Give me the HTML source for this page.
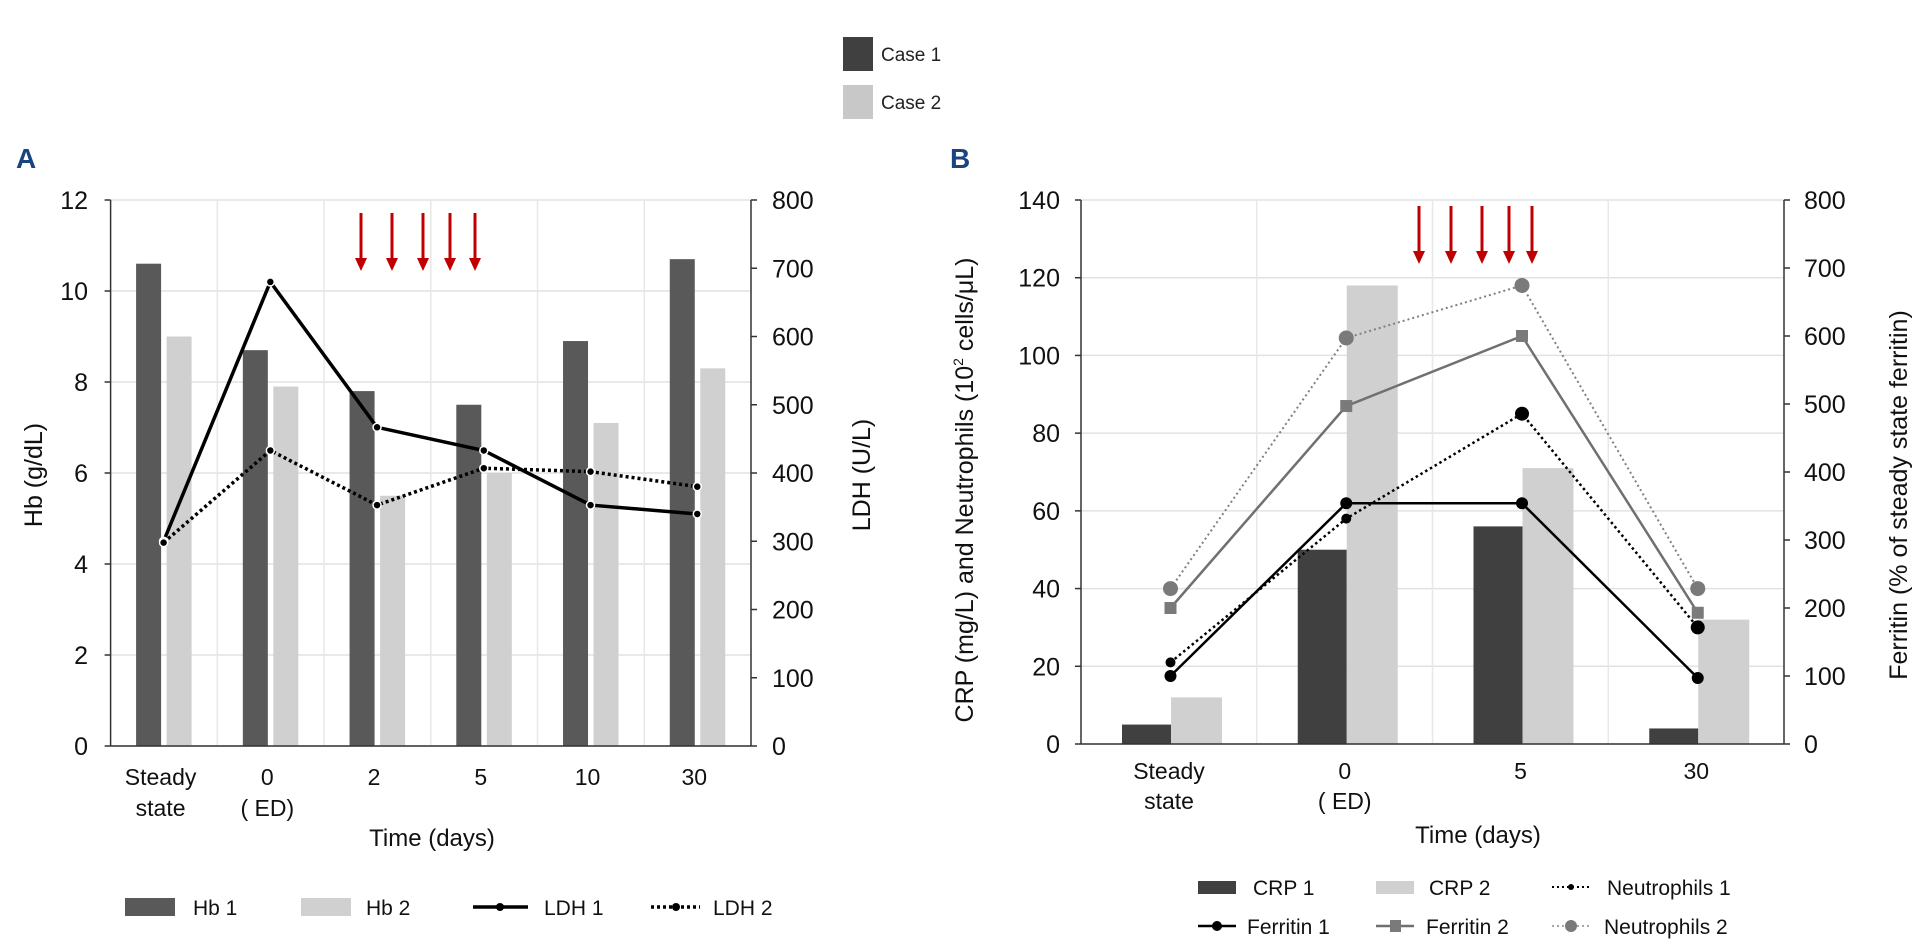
<!DOCTYPE html>
<html><head><meta charset="utf-8"><style>
html,body{margin:0;padding:0;background:#fff;}
svg{display:block;font-family:"Liberation Sans",Arial,sans-serif;}
</style></head><body>
<svg id="fig" width="1927" height="942" viewBox="0 0 1927 942" xmlns="http://www.w3.org/2000/svg">
<g>
<rect x="843" y="37" width="30" height="34" fill="#404040"/>
<text x="881" y="61" font-size="19" fill="#222">Case 1</text>
<rect x="843" y="85" width="30" height="34" fill="#c8c8c8"/>
<text x="881" y="109" font-size="19" fill="#222">Case 2</text>
</g>
<text x="16" y="168" font-size="28" font-weight="bold" fill="#1a4480">A</text>
<text x="950" y="168" font-size="28" font-weight="bold" fill="#1a4480">B</text>
<g id="chartA"></g>
<g id="chartB"></g>
</svg>
<script>
// ---- Chart A data ----
const catsA = [["Steady","state"],["0","( ED)"],["2"],["5"],["10"],["30"]];
const hb1 = [10.6, 8.7, 7.8, 7.5, 8.9, 10.7];
const hb2 = [9.0, 7.9, 5.5, 6.0, 7.1, 8.3];
const ldh1 = [300, 680, 467, 433, 353, 340];
const ldh2 = [298, 433, 353, 407, 402, 380];
const ticksAL = [0,2,4,6,8,10,12];
const ticksAR = [0,100,200,300,400,500,600,700,800];
// ---- Chart B data ----
const catsB = [["Steady","state"],["0","( ED)"],["5"],["30"]];
const crp1 = [5, 50, 56, 4];
const crp2 = [12, 118, 71, 32];
const neut1 = [21, 58, 85, 30];
const neut2 = [40, 104.5, 118, 40];
const ferr1 = [100, 354, 354, 97];
const ferr2 = [200, 497, 600, 193];
const ticksBL = [0,20,40,60,80,100,120,140];
const ticksBR = [0,100,200,300,400,500,600,700,800];

const NS="http://www.w3.org/2000/svg";
function mk(parent, tag, attrs){const e=document.createElementNS(NS,tag);for(const k in attrs)e.setAttribute(k,attrs[k]);parent.appendChild(e);return e;}
function arrow(g,x,y1,y2,name){
  const a=mk(g,'line',{x1:x,x2:x,y1:y1,y2:y2-10,stroke:'#c00000','stroke-width':3});
  
  
  const h=mk(g,'polygon',{points:(x-6)+','+(y2-13)+' '+(x+6)+','+(y2-13)+' '+x+','+y2,fill:'#c00000'});
  
  
}

// ===== Chart A =====
(function(){
const g=document.getElementById('chartA');
const L=110.6,R=751,T=200,B=746;
const band=(R-L)/catsA.length;
const yL=v=>B-(v/12)*(B-T);
const yR=v=>B-(v/800)*(B-T);
const bx=i=>L+i*band;
ticksAL.forEach(t=>{
  const gl=mk(g,'line',{x1:L,x2:R,y1:yL(t),y2:yL(t),stroke:'#e2e2e2','stroke-width':1.5});
  
  
  const tx=mk(g,'text',{x:88,y:yL(t)+9,'font-size':25,'text-anchor':'end',fill:'#111'});tx.textContent=t;
  
  
  const tk=mk(g,'line',{x1:L-6,x2:L,y1:yL(t),y2:yL(t),stroke:'#333','stroke-width':1.5});
  
  
});
for(let i=1;i<catsA.length;i++){
  const v=mk(g,'line',{x1:bx(i),x2:bx(i),y1:T,y2:B,stroke:'#e8e8e8','stroke-width':1.5});
  
  
}
ticksAR.forEach(t=>{
  const tx=mk(g,'text',{x:772,y:yR(t)+9,'font-size':25,fill:'#111'});tx.textContent=t;
  
  
  const tk=mk(g,'line',{x1:R,x2:R+6,y1:yR(t),y2:yR(t),stroke:'#333','stroke-width':1.5});
  
  
});
hb1.forEach((v,i)=>{
  const r=mk(g,'rect',{x:bx(i)+25.5,y:yL(v),width:25,height:B-yL(v),fill:'#595959'});
  
  
});
hb2.forEach((v,i)=>{
  const r=mk(g,'rect',{x:bx(i)+56,y:yL(v),width:25,height:B-yL(v),fill:'#d0d0d0'});
  
  
});
const axL=mk(g,'line',{x1:L,x2:L,y1:T,y2:B,stroke:'#333','stroke-width':1.5});


const axR=mk(g,'line',{x1:R,x2:R,y1:T,y2:B,stroke:'#333','stroke-width':1.5});


const axB=mk(g,'line',{x1:L,x2:R,y1:B,y2:B,stroke:'#333','stroke-width':1.5});


const px=i=>bx(i)+53;
const p1=mk(g,'polyline',{points:ldh1.map((v,i)=>px(i)+','+yR(v)).join(' '),fill:'none',stroke:'#000','stroke-width':3.5});


const p2=mk(g,'polyline',{points:ldh2.map((v,i)=>px(i)+','+yR(v)).join(' '),fill:'none',stroke:'#000','stroke-width':3.5,'stroke-dasharray':'3 3'});


[ldh1,ldh2].forEach((s,k)=>s.forEach((v,i)=>{
  const c=mk(g,'circle',{cx:px(i),cy:yR(v),r:4,fill:'#000',stroke:'#fff','stroke-width':1.5});
  
  
}));
catsA.forEach((c,i)=>{c.forEach((s,j)=>{
  const tx=mk(g,'text',{x:px(i)-3,y:785+j*31,'font-size':23,'text-anchor':'middle',fill:'#111'});tx.textContent=s;
  
  
});});
const xt=mk(g,'text',{x:432,y:846,'font-size':24,'text-anchor':'middle',fill:'#111'});xt.textContent='Time (days)';


const yt=mk(g,'text',{transform:'translate(42,475) rotate(-90)','font-size':25,'text-anchor':'middle',fill:'#111'});yt.textContent='Hb (g/dL)';


const yt2=mk(g,'text',{transform:'translate(870,475) rotate(-90)','font-size':25,'text-anchor':'middle',fill:'#111'});yt2.textContent='LDH (U/L)';


[361,392,423,450,475].forEach((x,i)=>arrow(g,x,213,271,'treatment-arrow-a-'+i));
const lg=mk(g,'g',{});


let r1=mk(lg,'rect',{x:125,y:898,width:50,height:18,fill:'#595959'});


let r2=mk(lg,'rect',{x:301,y:898,width:50,height:18,fill:'#d0d0d0'});


let l1=mk(lg,'line',{x1:473,x2:528,y1:907,y2:907,stroke:'#000','stroke-width':3.5});


let c1=mk(lg,'circle',{cx:500,cy:907,r:4,fill:'#000'});


let l2=mk(lg,'line',{x1:651,x2:700,y1:907,y2:907,stroke:'#000','stroke-width':3.5,'stroke-dasharray':'3 3'});


let c2=mk(lg,'circle',{cx:676,cy:907,r:4,fill:'#000'});


[['Hb 1',193],['Hb  2',366],['LDH 1',544],['LDH 2',713]].forEach(([t,x])=>{
  const tx=mk(lg,'text',{x:x,y:915,'font-size':21,fill:'#111'});tx.textContent=t;
  
  
});
})();

// ===== Chart B =====
(function(){
const g=document.getElementById('chartB');
const L=1081,R=1784,T=200,B=744;
const band=(R-L)/catsB.length;
const yL=v=>B-(v/140)*(B-T);
const yR=v=>B-(v/800)*(B-T);
const bx=i=>L+i*band;
ticksBL.forEach(t=>{
  const gl=mk(g,'line',{x1:L,x2:R,y1:yL(t),y2:yL(t),stroke:'#e2e2e2','stroke-width':1.5});
  
  
  const tx=mk(g,'text',{x:1060,y:yL(t)+9,'font-size':25,'text-anchor':'end',fill:'#111'});tx.textContent=t;
  
  
  const tk=mk(g,'line',{x1:L-6,x2:L,y1:yL(t),y2:yL(t),stroke:'#333','stroke-width':1.5});
  
  
});
for(let i=1;i<catsB.length;i++){
  const v=mk(g,'line',{x1:bx(i),x2:bx(i),y1:T,y2:B,stroke:'#e8e8e8','stroke-width':1.5});
  
  
}
ticksBR.forEach(t=>{
  const tx=mk(g,'text',{x:1804,y:yR(t)+9,'font-size':25,fill:'#111'});tx.textContent=t;
  
  
  const tk=mk(g,'line',{x1:R,x2:R+6,y1:yR(t),y2:yR(t),stroke:'#333','stroke-width':1.5});
  
  
});
crp1.forEach((v,i)=>{
  const r=mk(g,'rect',{x:bx(i)+41,y:yL(v),width:49,height:B-yL(v),fill:'#404040'});
  
  
});
crp2.forEach((v,i)=>{
  const r=mk(g,'rect',{x:bx(i)+90,y:yL(v),width:51,height:B-yL(v),fill:'#d0d0d0'});
  
  
});
const axL=mk(g,'line',{x1:L,x2:L,y1:T,y2:B,stroke:'#333','stroke-width':1.5});


const axR=mk(g,'line',{x1:R,x2:R,y1:T,y2:B,stroke:'#333','stroke-width':1.5});


const axB=mk(g,'line',{x1:L,x2:R,y1:B,y2:B,stroke:'#333','stroke-width':1.5});


const px=i=>bx(i)+89.5;
function series(vals,yf,stroke,w,dash,name){
  const p=mk(g,'polyline',{points:vals.map((v,i)=>px(i)+','+yf(v)).join(' '),fill:'none',stroke:stroke,'stroke-width':w,'stroke-dasharray':dash});
  
  
}
series(neut2,yL,'#808080',2,'2 3','line-neutrophils2');
series(ferr2,yR,'#707070',2.5,'none','line-ferritin2');
series(neut1,yL,'#000',2.5,'2.5 3','line-neutrophils1');
series(ferr1,yR,'#000',2.5,'none','line-ferritin1');
neut2.forEach((v,i)=>{
  const c=mk(g,'circle',{cx:px(i),cy:yL(v),r:7.5,fill:'#7a7a7a'});
  
  
});
ferr2.forEach((v,i)=>{
  const c=mk(g,'rect',{x:px(i)-6,y:yR(v)-6,width:12,height:12,fill:'#7a7a7a'});
  
  
});
neut1.forEach((v,i)=>{
  const c=mk(g,'circle',{cx:px(i),cy:yL(v),r:(i===2||i===3)?7:5,fill:'#000'});
  
  
});
ferr1.forEach((v,i)=>{
  const c=mk(g,'circle',{cx:px(i),cy:yR(v),r:6,fill:'#000'});
  
  
});
catsB.forEach((c,i)=>{c.forEach((s,j)=>{
  const tx=mk(g,'text',{x:bx(i)+88,y:779+j*30,'font-size':23,'text-anchor':'middle',fill:'#111'});tx.textContent=s;
  
  
});});
const xt=mk(g,'text',{x:1478,y:843,'font-size':24,'text-anchor':'middle',fill:'#111'});xt.textContent='Time (days)';


const yt=mk(g,'text',{transform:'translate(973,490) rotate(-90)','font-size':25,'text-anchor':'middle',fill:'#111'});
yt.innerHTML='CRP (mg/L) and Neutrophils (10<tspan font-size="14" dy="-10">2</tspan><tspan dy="10"> cells/\u03bcL)</tspan>';


const yt2=mk(g,'text',{transform:'translate(1907,495) rotate(-90)','font-size':25,'text-anchor':'middle',fill:'#111'});yt2.textContent='Ferritin (% of steady state ferritin)';


[1419,1451,1482,1509,1532].forEach((x,i)=>arrow(g,x,206,264,'treatment-arrow-b-'+i));
const lg=mk(g,'g',{});


let s1=mk(lg,'rect',{x:1198,y:881,width:38,height:13,fill:'#404040'});


let s2=mk(lg,'rect',{x:1376,y:881,width:38,height:13,fill:'#d0d0d0'});


let n1=mk(lg,'line',{x1:1552,x2:1591,y1:887,y2:887,stroke:'#000','stroke-width':2,'stroke-dasharray':'2 3'});


let n1c=mk(lg,'circle',{cx:1571,cy:887,r:3,fill:'#000'});


let f1=mk(lg,'line',{x1:1198,x2:1236,y1:926,y2:926,stroke:'#000','stroke-width':2.5});


let f1c=mk(lg,'circle',{cx:1217,cy:926,r:5,fill:'#000'});


let f2=mk(lg,'line',{x1:1376,x2:1414,y1:926,y2:926,stroke:'#707070','stroke-width':2.5});


let f2c=mk(lg,'rect',{x:1390,y:920,width:11,height:12,fill:'#7a7a7a'});


let n2=mk(lg,'line',{x1:1552,x2:1591,y1:926,y2:926,stroke:'#888','stroke-width':1.5,'stroke-dasharray':'2 3'});


let n2c=mk(lg,'circle',{cx:1571,cy:926,r:6,fill:'#7a7a7a'});


[['CRP 1',1253,895],['CRP 2',1429,895],['Neutrophils 1',1607,895],['Ferritin 1',1247,934],['Ferritin 2',1426,934],['Neutrophils 2',1604,934]].forEach(([t,x,y])=>{
  const tx=mk(lg,'text',{x:x,y:y,'font-size':21,fill:'#111'});tx.textContent=t;
  
  
});
})();
</script>
</body></html>
